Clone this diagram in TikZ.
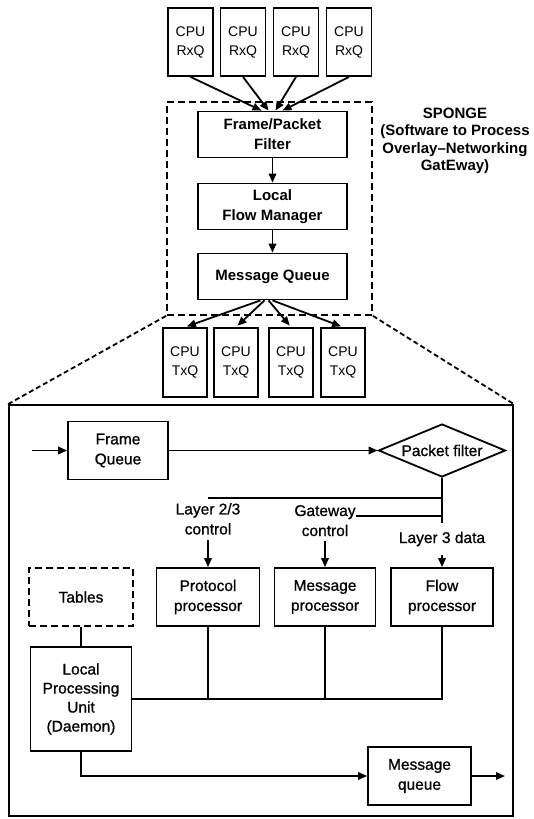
\documentclass[tikz,border=0pt]{standalone}
\usepackage{fontspec}
\setmainfont{Liberation Sans}
\newfontfamily\medfont{Liberation Sans}[FakeBold=0.9]
\usetikzlibrary{arrows.meta,shapes.geometric}

\tikzset{
  box/.style={draw, line width=1.8pt, inner sep=0pt, align=center},
  cpubox/.style={box, minimum width=45pt, minimum height=68pt,
    font=\fontsize{14}{19}\selectfont},
  topbox/.style={box, minimum width=149pt, minimum height=46pt,
    font=\bfseries\fontsize{15}{20}\selectfont},
  lowfont/.style={font=\medfont\fontsize{15.5}{20}\selectfont},
  lowbox/.style={box, lowfont},
  dashbox/.style={draw, line width=1.8pt, dash pattern=on 7pt off 4pt, inner sep=0pt},
  lbl/.style={inner xsep=0pt, align=center, lowfont},
  wire/.style={line width=1.8pt},
  arr/.style={wire, -{Triangle[length=9pt,width=7.5pt]}},
}

\begin{document}
\begin{tikzpicture}[x=1pt,y=-1pt]
\fill[white] (0,0) rectangle (534,819);
\useasboundingbox (0,0) rectangle (534,819);

% receive queues
\node[cpubox] (rx1) at (190.5,42) {CPU\\RxQ};
\node[cpubox] (rx2) at (243,42) {CPU\\RxQ};
\node[cpubox] (rx3) at (296,42) {CPU\\RxQ};
\node[cpubox] (rx4) at (349,42) {CPU\\RxQ};

% SPONGE block
\node[dashbox, minimum width=205pt, minimum height=213pt] (sp) at (269.5,208.5) {};
\node[topbox] (ff) at (272.5,134.5) {Frame/Packet\\Filter};
\node[topbox] (lfm) at (272.5,206.5) {Local\\Flow Manager};
\node[topbox] (mq) at (272.5,276.5) {Message Queue};
\node[align=center, font=\bfseries\fontsize{15}{17.5}\selectfont] (sponge) at (455,141)
  {SPONGE\\(Software to Process\\Overlay–Networking\\GatEway)};

% transmit queues
\node[cpubox, minimum width=44pt, minimum height=69pt] (tx1) at (185,362.5) {CPU\\TxQ};
\node[cpubox, minimum width=44pt, minimum height=69pt] (tx2) at (236,362.5) {CPU\\TxQ};
\node[cpubox, minimum width=44pt, minimum height=69pt] (tx3) at (291,362.5) {CPU\\TxQ};
\node[cpubox, minimum width=44pt, minimum height=69pt] (tx4) at (343,362.5) {CPU\\TxQ};

\draw[arr] (rx1.south) -- ([xshift=-11pt]ff.north);
\draw[arr] (rx2.south) -- ([xshift=-4pt]ff.north);
\draw[arr] (rx3.south) -- ([xshift=3pt]ff.north);
\draw[arr] (rx4.south) -- ([xshift=10pt]ff.north);
\draw[arr] (ff) -- (lfm);
\draw[arr] (lfm) -- (mq);
\draw[arr, shorten >=2pt] ([xshift=-12pt]mq.south) -- (tx1.north);
\draw[arr, shorten >=2pt] ([xshift=-8pt]mq.south) -- (tx2.north);
\draw[arr, shorten >=2pt] ([xshift=-4pt]mq.south) -- (tx3.north);
\draw[arr, shorten >=2pt] ([xshift=0pt]mq.south) -- (tx4.north);

% detail view
\node[box, minimum width=504pt, minimum height=411pt] (big) at (261,610.5) {};
\draw[wire, dash pattern=on 5pt off 3pt] (sp.south west) -- (big.north west);
\draw[wire, dash pattern=on 5pt off 3pt] (sp.south east) -- (big.north east);

\node[lowbox, minimum width=100pt, minimum height=58pt] (fq) at (118,450.5) {Frame\\Queue};
\node[draw, wire, shape=diamond, inner sep=0pt, minimum width=127pt, minimum height=53pt,
  label={[lowfont]center:Packet filter}] (pf) at (442,450.5) {};

\node[lbl, anchor=north, inner ysep=5pt] (l23) at (208,498) {Layer 2/3\\control};
\node[lbl, anchor=base, inner ysep=0pt] (gw1) at (325,516) {Gateway};
\node[lbl, anchor=base, inner ysep=5pt] (gw2) at (325,536) {control};
\node[lbl, anchor=base, inner ysep=9pt] (l3) at (442,543) {Layer 3 data};

\node[dashbox, align=center, lowfont,
  minimum width=104pt, minimum height=58pt] (tables) at (81,597) {Tables};
\node[lowbox, minimum width=103pt, minimum height=58pt] (proto) at (208,597) {Protocol\\processor};
\node[lowbox, minimum width=101pt, minimum height=58pt] (msgp) at (325,597) {Message\\processor};
\node[lowbox, minimum width=102pt, minimum height=58pt] (flow) at (442,597) {Flow\\processor};
\node[lowbox, font=\medfont\fontsize{15.5}{19}\selectfont,
  minimum width=101pt, minimum height=104pt] (lpu) at (81,699) {Local\\Processing\\Unit\\(Daemon)};
\node[lowbox, minimum width=103pt, minimum height=58pt] (mq2) at (419.5,776) {Message\\queue};

\coordinate (in) at (32,450.5);
\coordinate (out) at (505,776);

\draw[arr] (in) -- (fq);
\draw[arr] (fq) -- (pf);
\draw[wire] (pf.south) -- (l3.north);
\draw[wire] (pf.south) |- (l23.north);
\draw[wire] (pf.south) |- (gw1.base east);
\draw[arr] (l23.south) -- (proto.north);
\draw[arr] (gw2.south) -- (msgp.north);
\draw[arr] (l3.south) -- (flow.north);

\draw[wire] (tables) -- (lpu);
\draw[wire] (lpu.east) -| (flow.south);
\draw[wire] (proto.south) -- (proto.south |- lpu.east);
\draw[wire] (msgp.south) -- (msgp.south |- lpu.east);
\draw[arr] (lpu.south) |- (mq2.west);
\draw[arr] (mq2.east) -- (out);
\end{tikzpicture}
\end{document}
